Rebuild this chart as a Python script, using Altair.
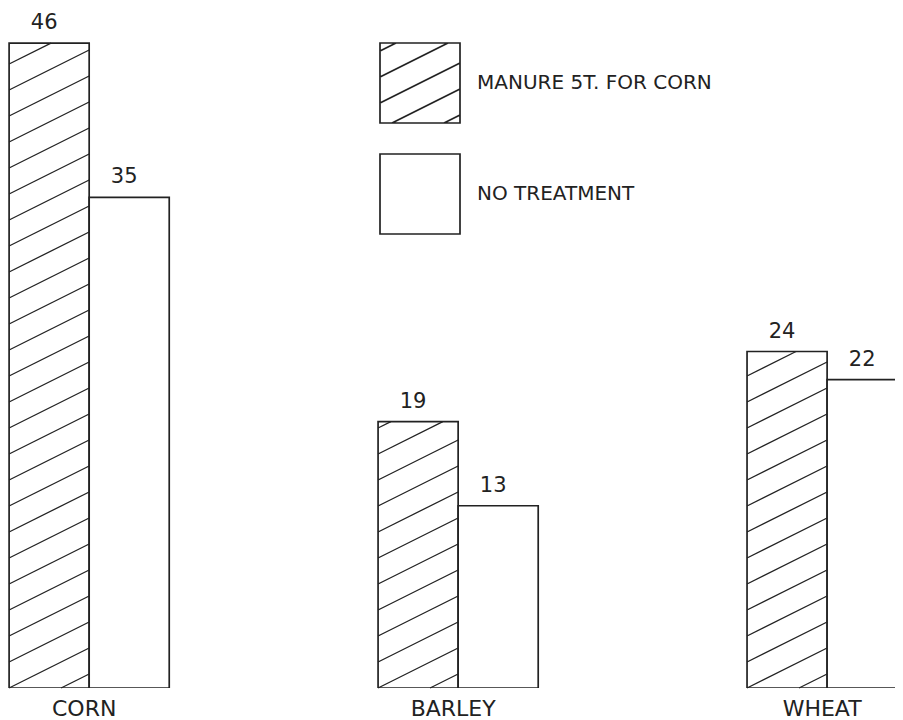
import altair as alt
import numpy as np
import pandas as pd

# ---- data ----
crops = ["CORN", "BARLEY", "WHEAT"]
series = ["MANURE 5T. FOR CORN", "NO TREATMENT"]
manure = [46, 19, 24]
no_treatment = [35, 13, 22]

# ---- layout / style constants ----
W, H = 887, 680
X_MIN, X_MAX = -0.003, 2.401
Y_MAX = 48.5
BAR_W = 0.217
INK = "#222222"
FONT = "DejaVu Sans"
SLOPE, GAP = 0.5, 26.0  # hatch slope and vertical spacing (px)

rows = []
for i, crop in enumerate(crops):
    for j, (s, vals) in enumerate(zip(series, [manure, no_treatment])):
        x0 = i + j * BAR_W
        rows.append(dict(crop=crop, series=s, x0=x0, x1=x0 + BAR_W,
                         xc=x0 + BAR_W / 2, value=vals[i], base=0,
                         label=str(vals[i])))
bars = pd.DataFrame(rows)

# hatching segments derived from the bars (clipped to each hatched bar)
sx = W / (X_MAX - X_MIN)
sy = H / Y_MAX
segs = []
for r in bars[bars.series == series[0]].itertuples():
    w = (r.x1 - r.x0) * sx
    h = r.value * sy
    kmin = int(np.floor(-w * SLOPE / GAP))
    kmax = int(np.ceil(h / GAP))
    for k in range(kmin, kmax + 1):
        c = k * GAP
        u0 = max(0.0, -c / SLOPE)
        u1 = min(w, (h - c) / SLOPE)
        if u1 - u0 > 0.5:
            segs.append(dict(x=r.x0 + u0 / sx, x2=r.x0 + u1 / sx,
                             y=(c + SLOPE * u0) / sy, y2=(c + SLOPE * u1) / sy))
hatch = pd.DataFrame(segs)

cats = pd.DataFrame({"crop": crops,
                     "xc": [i + BAR_W for i in range(len(crops))],
                     "base": [0] * len(crops)})

# legend symbols: hatched square and plain square (unit coords)
def hatch_path(step=0.65, slope=0.5):
    p = "M-1,-1L1,-1L1,1L-1,1Z"
    for k in range(-3, 4):
        c = k * step
        pts = []
        for xx in np.linspace(-1, 1, 2001):
            yy = -slope * xx + c
            if -1 <= yy <= 1:
                pts.append((xx, yy))
        if len(pts) > 10:
            (ax, ay), (bx, by) = pts[0], pts[-1]
            p += f"M{ax:.3f},{ay:.3f}L{bx:.3f},{by:.3f}"
    return p

box_path = "M-1,-1L1,-1L1,1L-1,1Z"

x_scale = alt.Scale(domain=[X_MIN, X_MAX], nice=False, zero=False)
y_scale = alt.Scale(domain=[0, Y_MAX], nice=False)

base_bars = alt.Chart(bars)

bar_layer = base_bars.mark_bar(fill="white", stroke=INK, strokeWidth=1.7, clip=True).encode(
    x=alt.X("x0:Q", scale=x_scale, axis=None),
    x2="x1:Q",
    y=alt.Y("value:Q", scale=y_scale, axis=None),
    y2="base:Q",
)

hatch_layer = alt.Chart(hatch).mark_rule(stroke=INK, strokeWidth=1.3).encode(
    x=alt.X("x:Q", scale=x_scale, axis=None),
    x2="x2:Q",
    y=alt.Y("y:Q", scale=y_scale, axis=None),
    y2="y2:Q",
)

legend_layer = base_bars.mark_point(opacity=0, filled=False).encode(
    x=alt.X("xc:Q", scale=x_scale, axis=None),
    y=alt.Y("value:Q", scale=y_scale, axis=None),
    shape=alt.Shape("series:N",
                    scale=alt.Scale(domain=series, range=[hatch_path(), box_path]),
                    legend=alt.Legend(title=None, orient="none", legendX=371, legendY=34,
                                      symbolSize=6400, symbolStrokeWidth=1.7,
                                      symbolStrokeColor=INK, symbolOpacity=1,
                                      labelFont=FONT, labelFontSize=20, labelColor=INK,
                                      labelLimit=500, labelOffset=16, rowPadding=23,
                                      padding=0)),
)

value_labels = base_bars.mark_text(font=FONT, fontSize=21, color=INK, baseline="middle",
                                   dy=-20, dx=-5).encode(
    x=alt.X("xc:Q", scale=x_scale, axis=None),
    y=alt.Y("value:Q", scale=y_scale, axis=None),
    text="label:N",
)

cat_labels = alt.Chart(cats).mark_text(font=FONT, fontSize=22, color=INK, baseline="middle",
                                       dy=21, dx=-5).encode(
    x=alt.X("xc:Q", scale=x_scale, axis=None),
    y=alt.Y("base:Q", scale=y_scale, axis=None),
    text="crop:N",
)

chart = alt.layer(bar_layer, hatch_layer, legend_layer, value_labels, cat_labels).properties(
    width=W, height=H,
    padding={"left": 0, "top": 0, "right": 0, "bottom": 32},
    autosize=alt.AutoSizeParams(type="none"),
    background="white",
).configure_view(stroke=None)

chart.save("out.html", embed_options={"renderer": "svg", "actions": False})
